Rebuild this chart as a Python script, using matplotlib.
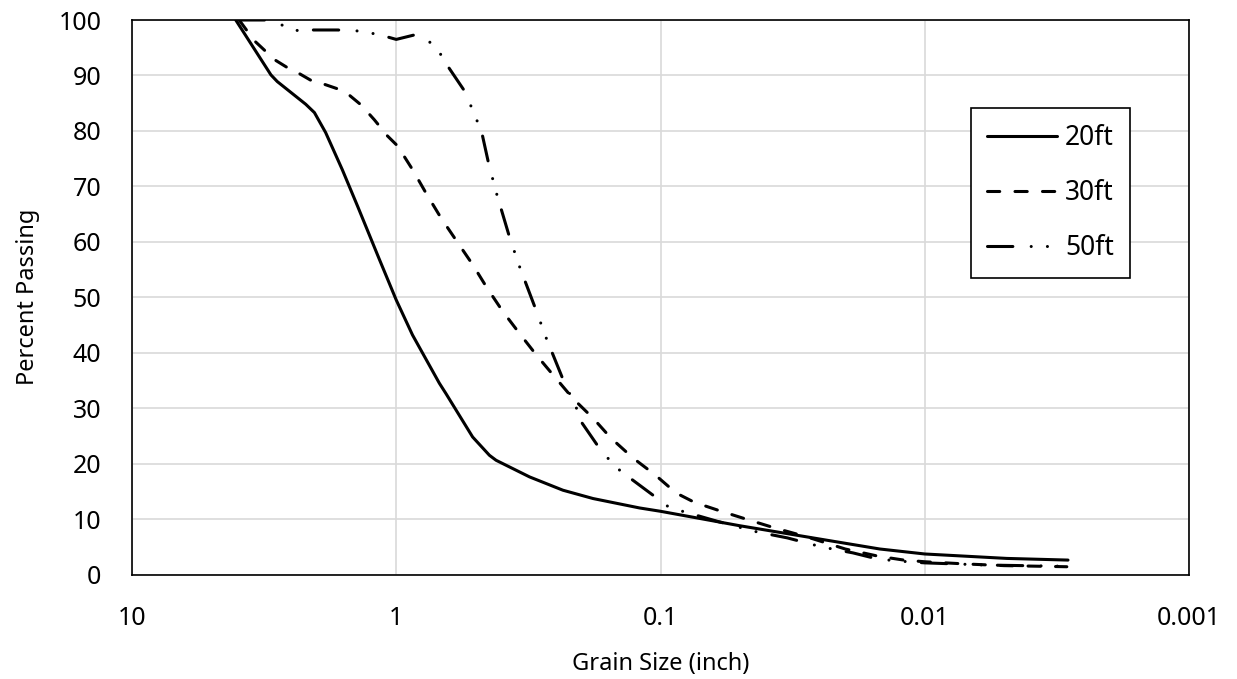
import matplotlib
matplotlib.use('Agg')
import matplotlib.pyplot as plt
from matplotlib.ticker import NullLocator

plt.rcParams['font.family'] = ['Noto Sans', 'DejaVu Sans']

# grain size (inch) and percent passing
size_20ft = [4.05, 2.98, 2.82, 2.20, 2.04, 1.85, 1.60, 1.40, 1.16, 1.0, 0.868,
             0.687, 0.648, 0.514, 0.444, 0.419, 0.313, 0.234, 0.180, 0.120,
             0.100, 0.0502, 0.025, 0.0148, 0.010, 0.00489, 0.00287]
pct_20ft = [100, 90.1, 88.9, 84.8, 83.3, 79.7, 73.0, 66.4, 56.9, 49.5, 43.2,
            34.5, 32.6, 24.8, 21.5, 20.6, 17.6, 15.2, 13.7, 12.0,
            11.4, 8.8, 6.4, 4.6, 3.7, 2.9, 2.6]

size_30ft = [3.93, 3.45, 3.16, 2.90, 2.60, 2.34, 2.10, 1.87, 1.67, 1.51, 1.36,
             1.21, 1.08, 0.989, 0.867, 0.772, 0.677, 0.594, 0.514, 0.455,
             0.396, 0.342, 0.294, 0.252, 0.214, 0.180, 0.154, 0.127, 0.105,
             0.0873, 0.0743, 0.0589, 0.0468, 0.037, 0.028, 0.020, 0.015,
             0.012, 0.010, 0.007, 0.005, 0.0029]
pct_30ft = [100, 96.3, 94.6, 92.9, 91.5, 90.4, 89.1, 88.4, 87.6, 86.5, 84.7,
            82.0, 79.1, 77.3, 73.0, 68.8, 64.3, 60.3, 55.9, 51.8,
            47.5, 43.5, 39.5, 35.7, 31.7, 28.2, 24.6, 21.0, 18.0,
            14.7, 13.0, 11.4, 9.9, 8.4, 6.8, 4.6, 3.3,
            2.6, 2.3, 1.9, 1.6, 1.4]

size_50ft = [3.93, 3.11, 2.77, 2.43, 2.14, 1.67, 1.44, 1.26, 1.09, 1.0, 0.855,
             0.757, 0.687, 0.641, 0.557, 0.526, 0.498, 0.473, 0.448, 0.419,
             0.373, 0.342, 0.297, 0.271, 0.233, 0.208, 0.198, 0.171, 0.157,
             0.142, 0.128, 0.104, 0.0933, 0.0826, 0.060, 0.0433, 0.0331,
             0.0256, 0.0224, 0.0187, 0.0157, 0.0132, 0.010, 0.0058, 0.0031]
pct_50ft = [100, 100, 99.3, 98.1, 98.2, 98.2, 98.1, 97.7, 97.0, 96.5, 97.3,
            96.3, 94.2, 91.8, 87.5, 84.9, 82.2, 79.4, 74.3, 69.0,
            60.9, 55.6, 47.9, 42.7, 35.0, 30.0, 27.3, 22.9, 20.8,
            18.7, 17.1, 13.9, 12.2, 11.4, 9.5, 7.7, 6.6,
            5.2, 4.6, 3.9, 3.0, 2.5, 2.1, 1.7, 1.5]

x_ticks = [10, 1, 0.1, 0.01, 0.001]
x_tick_labels = ['10', '1', '0.1', '0.01', '0.001']

fig = plt.figure(figsize=(12.37, 6.79), dpi=100)
ax = fig.add_axes([132 / 1237, 1 - 574.5 / 679, (1189 - 132) / 1237, (574.5 - 20) / 679])

lw = 2.2
ax.plot(size_20ft, pct_20ft, color='black', lw=lw, linestyle='-',
        solid_capstyle='round', label='20ft')
ax.plot(size_30ft, pct_30ft, color='black', lw=lw, linestyle=(0, (4, 5)),
        dash_capstyle='round', label='30ft')
ax.plot(size_50ft, pct_50ft, color='black', lw=lw,
        linestyle=(0, (8.3, 6, 0.01, 5.3, 0.01, 5.3)),
        dash_capstyle='round', label='50ft')

ax.set_xscale('log')
ax.set_xlim(10, 0.001)
ax.set_ylim(0, 100)
ax.set_xticks(x_ticks)
ax.set_xticklabels(x_tick_labels)
ax.xaxis.set_minor_locator(NullLocator())
ax.set_yticks(range(0, 101, 10))

ax.grid(True, color='#d9d9d9', lw=1.2)
ax.set_axisbelow(True)
for s in ax.spines.values():
    s.set_color('black')
    s.set_linewidth(1.2)

ax.tick_params(axis='both', length=0, labelsize=18)
ax.tick_params(axis='y', pad=22)
ax.tick_params(axis='x', pad=23)

ax.set_xlabel('Grain Size (inch)', fontsize=17, labelpad=15)
ax.set_ylabel('Percent Passing', fontsize=17, labelpad=13)

leg = ax.legend(loc='upper left', bbox_to_anchor=(0.7935, 0.8408),
                borderaxespad=0, fontsize=19, handlelength=2.67,
                handletextpad=0.3, labelspacing=1.03, borderpad=0.6,
                fancybox=False, framealpha=1)
leg.get_frame().set_edgecolor('black')
leg.get_frame().set_linewidth(1.2)

fig.savefig('out.png', dpi=100)
